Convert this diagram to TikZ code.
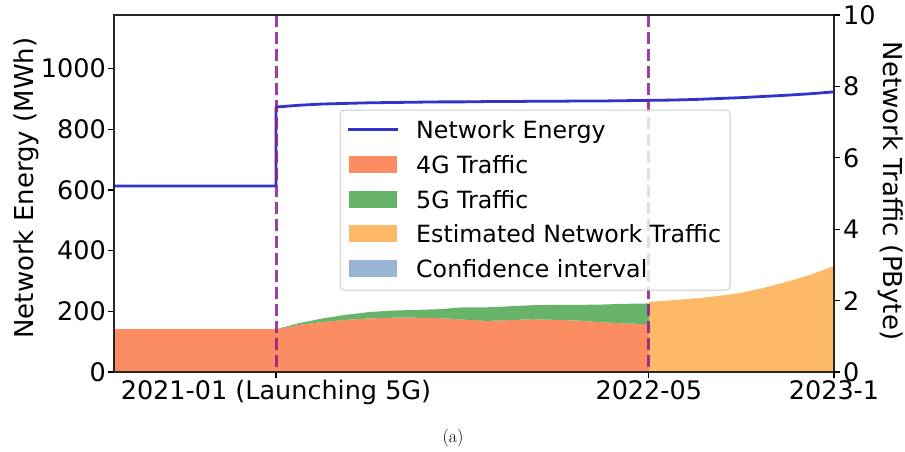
\documentclass[tikz,border=0pt]{standalone}
\usepackage{fontspec}
\newfontfamily\plotfont{DejaVu Sans}

\definecolor{energyblue}{RGB}{51,51,204}
\definecolor{lteorange}{RGB}{252,141,98}
\definecolor{nrgreen}{RGB}{103,179,106}
\definecolor{estorange}{RGB}{253,185,101}
\definecolor{ciblue}{RGB}{152,181,212}
\definecolor{launchpurple}{RGB}{140,30,140}

\begin{document}
\begin{tikzpicture}[x=1pt, y=-1pt,
    ticklabel/.style={font=\plotfont\fontsize{25.5}{30}\selectfont, inner sep=0pt},
    axislabel/.style={font=\plotfont\fontsize{26}{30}\selectfont, inner sep=0pt},
    legendtext/.style={font=\plotfont\fontsize{23.7}{28}\selectfont, inner sep=0pt, anchor=base west},
    launchline/.style={draw=launchpurple, draw opacity=0.85, line width=3pt, dash pattern=on 12pt off 5pt}]
\useasboundingbox (0,0) rectangle (905,452);

% Traffic areas, right axis (PByte), one point per month
\begin{scope}[shift={(0pt,-372pt)}, y=35.7pt]
    % 4G before launch
    \fill[lteorange] (114,0) -- (114,1.2) -- (276,1.2) -- (276,0) -- cycle;
    % 4G after launch
    \fill[lteorange] (276,0) -- plot coordinates {
        (276,1.20) (299.3,1.32) (322.6,1.40) (345.9,1.46) (369.2,1.50)
        (392.5,1.52) (415.8,1.52) (439.1,1.51) (462.4,1.47) (485.7,1.43)
        (509,1.45) (532.3,1.48) (555.6,1.46) (578.9,1.44) (602.2,1.39)
        (625.5,1.36) (648.8,1.34)} -- (648.8,0) -- cycle;
    % 5G stacked on top of 4G
    \fill[nrgreen] plot coordinates {
        (276,1.20) (299.3,1.37) (322.6,1.50) (345.9,1.60) (369.2,1.68)
        (392.5,1.72) (415.8,1.74) (439.1,1.76) (462.4,1.81) (485.7,1.81)
        (509,1.84) (532.3,1.87) (555.6,1.88) (578.9,1.88) (602.2,1.89)
        (625.5,1.91) (648.8,1.92)}
      -- plot coordinates {
        (648.8,1.34) (625.5,1.36) (602.2,1.39) (578.9,1.44) (555.6,1.46)
        (532.3,1.48) (509,1.45) (485.7,1.43) (462.4,1.47) (439.1,1.51)
        (415.8,1.52) (392.5,1.52) (369.2,1.50) (345.9,1.46) (322.6,1.40)
        (299.3,1.32) (276,1.20)} -- cycle;
    % estimated traffic
    \fill[estorange] (648.8,0) -- plot[smooth] coordinates {
        (648.8,1.96) (672,2.01) (695,2.06) (718,2.13) (741,2.22)
        (764,2.36) (787,2.53) (811,2.73) (834,2.97)} -- (834,0) -- cycle;
\end{scope}

% Network energy, left axis (MWh)
\begin{scope}[shift={(0pt,-372pt)}, y=0.3035pt]
    \draw[energyblue, line width=2.8pt, line join=round]
        (114,613) -- (276,613) -- (276,873) -- (299.3,879) -- (322.6,883)
        -- (345.9,885) -- (369.2,887) -- (392.5,888) -- (415.8,889)
        -- (439.1,890) -- (462.4,890) -- (485.7,891) -- (509,891)
        -- (532.3,892) -- (555.6,892) -- (578.9,893) -- (602.2,893)
        -- (625.5,894) -- (648.8,895) -- (672,896) -- (695,898)
        -- (718,901) -- (741,904) -- (764,908) -- (787,912)
        -- (811,917) -- (834,923);
\end{scope}

% 5G launch and forecast start
\draw[launchline] (276,15) -- (276,372);
\draw[launchline] (648.8,15) -- (648.8,372);

% Legend
\draw[draw=black!20, fill=white, fill opacity=0.8, rounded corners=4pt, line width=1pt]
    (340,110) rectangle (730,290);
\draw[energyblue, line width=2.8pt] (348,129.3) -- (397.7,129.3);
\node[legendtext] (leg-energy) at (416,138.3) {Network Energy};
\fill[lteorange] (349,155.8) rectangle (397,172.8);
\node[legendtext] (leg-4g) at (416,173.3) {4G Traffic};
\fill[nrgreen] (349,190.7) rectangle (397,207.7);
\node[legendtext] (leg-5g) at (416,208.2) {5G Traffic};
\fill[estorange] (349,224.8) rectangle (397,241.8);
\node[legendtext] (leg-est) at (416,242.3) {Estimated Network Traffic};
\fill[ciblue] (349,259.8) rectangle (397,276.8);
\node[legendtext] (leg-ci) at (416,277.3) {Confidence interval};

% Axes frame and ticks
\draw[line width=1.3pt, black!85] (114,15) rectangle (834,372);
\foreach \v in {0,200,...,1000} {
    \draw[line width=1.2pt] (114,{372-0.3035*\v}) -- (108,{372-0.3035*\v});
    \node[ticklabel, anchor=east] (energy-\v) at (106,{372-0.3035*\v}) {\v};
}
\foreach \v in {0,2,...,10} {
    \draw[line width=1.2pt] (834,{372-35.7*\v}) -- (840,{372-35.7*\v});
    \node[ticklabel, anchor=west] (traffic-\v) at (843,{372-35.7*\v}) {\v};
}
\foreach \x/\t [count=\i] in {276/2021-01 (Launching 5G), 648.8/2022-05, 834/2023-1} {
    \draw[line width=1.2pt] (\x,372) -- (\x,378);
    \node[ticklabel, anchor=base] (month-\i) at (\x,399.5) {\t};
}

% Axis titles
\node[axislabel, rotate=90] (energy-label) at (26,188) {Network Energy (MWh)};
\node[axislabel, rotate=-90] (traffic-label) at (891,191) {Network Traffic (PByte)};

\node[inner sep=0pt, font=\fontsize{18}{20}\selectfont] (caption) at (453,438) {(a)};
\end{tikzpicture}
\end{document}
